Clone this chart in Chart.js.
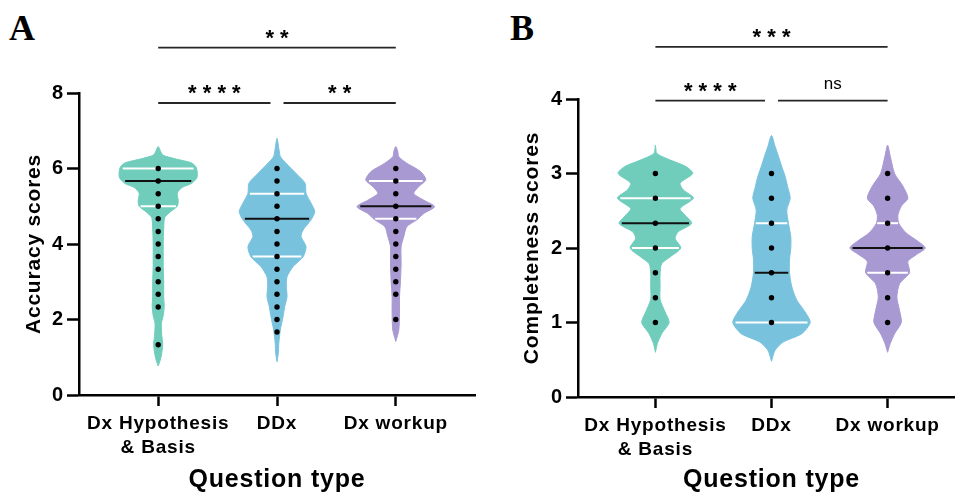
<!DOCTYPE html>
<html><head><meta charset="utf-8">
<script src="https://cdn.jsdelivr.net/npm/chart.js@4.4.1/dist/chart.umd.min.js"></script>
<style>
html,body{margin:0;padding:0;background:#fff;overflow:hidden;width:955px;height:493px;position:relative;}
canvas{position:absolute;top:0;}
#ca{left:0;}
#cb{left:480px;}
.pl{position:absolute;font-family:"Liberation Serif","Times New Roman",serif;font-weight:bold;font-size:36px;line-height:1;}
</style></head><body>
<div class="pl" style="left:9px;top:10px">A</div>
<div class="pl" style="left:510px;top:10px">B</div>
<canvas id="ca" width="480" height="493"></canvas>
<canvas id="cb" width="490" height="493"></canvas>
<script>
// ---------- DATA ----------
const categories = [["Dx Hypothesis", "& Basis"], "DDx", "Dx workup"];
const xTitle = "Question type";

// Panel A: accuracy scores
const accTicks = [0, 2, 4, 6, 8];
const accHypDots  = [6, 5.667, 5.333, 5, 4.667, 4.333, 4, 3.667, 3.333, 3, 2.667, 2.333, 1.333];
const accDdxDots  = [6, 5.667, 5.333, 5, 4.667, 4.333, 4, 3.667, 3.333, 3, 2.667, 2.333, 2, 1.667];
const accWorkDots = [6, 5.667, 5.333, 5, 4.667, 4.333, 4, 3.667, 3.333, 3, 2.667, 2];
// quartiles: [Q1, median, Q3]
const accHypStats  = [5, 5.667, 6];
const accDdxStats  = [3.667, 4.667, 5.333];
const accWorkStats = [4.667, 5, 5.667];
// violin density profiles (score level -> relative density)
const accHypLevels  = [0.77, 0.92, 1.1, 1.35, 1.6, 1.9, 2.1, 2.35, 2.6, 3.0, 3.4, 3.7, 4.0, 4.4, 4.7, 4.85, 5.0, 5.15, 5.35, 5.5, 5.6, 5.75, 5.9, 6.05, 6.15, 6.25, 6.35, 6.45, 6.58];
const accHypDens    = [0, 2, 3.5, 4.5, 3.5, 3.2, 5, 6, 5.5, 5.5, 5, 5, 5, 5.5, 6.5, 12, 19, 20, 19, 24, 33, 38.5, 39, 37.5, 33, 18, 5, 2.5, 0];
const accDdxLevels  = [0.88, 1.1, 1.37, 1.72, 2.07, 2.34, 2.6, 2.87, 3.13, 3.4, 3.66, 3.93, 4.2, 4.37, 4.64, 4.86, 5.08, 5.34, 5.61, 5.87, 6.14, 6.31, 6.5, 6.8];
const accDdxDens    = [0, 1.3, 1.8, 3.3, 6, 7.7, 10, 9.3, 10, 16, 26, 29, 24, 26, 34, 37.7, 34, 29, 28, 19, 9, 3.5, 2, 0];
const accWorkLevels = [1.42, 1.72, 2.16, 2.6, 3.04, 3.49, 3.93, 4.2, 4.46, 4.64, 4.81, 4.99, 5.16, 5.34, 5.52, 5.7, 5.92, 6.14, 6.31, 6.45, 6.58];
const accWorkDens   = [0, 3, 3.7, 3.7, 4.7, 5.3, 5.3, 8, 11, 21, 28, 38.7, 28, 18, 23, 30, 24.7, 11, 3, 2, 0];
const accComparisons = [[1, 3, "* *"], [1, 2, "* * * *"], [2, 3, "* *"]];

// Panel B: completeness scores
const compTicks = [0, 1, 2, 3, 4];
const compHypDots  = [3, 2.667, 2.333, 2, 1.667, 1.333, 1];
const compDdxDots  = [3, 2.667, 2.333, 2, 1.667, 1.333, 1];
const compWorkDots = [3, 2.667, 2.333, 2, 1.667, 1.333, 1];
const compHypStats  = [2, 2.333, 2.667];
const compDdxStats  = [1, 1.667, 2.333];
const compWorkStats = [1.667, 2, 2.333];
const compHypLevels  = [0.6, 0.72, 0.85, 1.0, 1.14, 1.31, 1.48, 1.66, 1.79, 1.88, 2.0, 2.13, 2.22, 2.33, 2.44, 2.53, 2.67, 2.78, 2.87, 3.0, 3.09, 3.18, 3.27, 3.38];
const compHypDens    = [0, 2, 6.3, 13.7, 9.7, 4.7, 4.7, 4.7, 6.3, 14.7, 25.3, 19.7, 23, 36.3, 29.7, 24.7, 38, 28, 24.7, 37.3, 31, 15, 1.5, 0];
const compDdxLevels  = [0.48, 0.63, 0.74, 0.85, 1.0, 1.14, 1.3, 1.48, 1.67, 1.84, 2.0, 2.15, 2.33, 2.51, 2.67, 2.83, 2.96, 3.09, 3.23, 3.36, 3.51];
const compDdxDens    = [0, 3.7, 12, 30.3, 38.7, 33.7, 25.3, 20.3, 18, 18, 19.3, 19.3, 17, 15.3, 18.7, 16, 13.7, 10.3, 7, 3.7, 0];
const compWorkLevels = [0.6, 0.72, 0.85, 1.0, 1.16, 1.34, 1.52, 1.67, 1.82, 1.91, 2.0, 2.09, 2.2, 2.33, 2.44, 2.56, 2.67, 2.83, 3.0, 3.23, 3.38];
const compWorkDens   = [0, 2.7, 7, 13.7, 12, 9.3, 12, 22, 20.3, 28.7, 37.7, 30.3, 18.7, 11.3, 10.3, 13.7, 20.3, 15.3, 7, 2.7, 0];
const compComparisons = [[1, 3, "* * *"], [1, 2, "* * * *"], [2, 3, "ns"]];

// ---------- STYLE ----------
const FONT = '"Liberation Sans", Arial, Helvetica, sans-serif';
const COLORS = ['#70cdbc', '#79c2de', '#a999d3'];

function interp(levels, dens, v) {
  for (let i = 0; i < levels.length - 1; i++) {
    if (v >= levels[i] && v <= levels[i + 1]) {
      const t = (v - levels[i]) / (levels[i + 1] - levels[i]);
      return dens[i] + t * (dens[i + 1] - dens[i]);
    }
  }
  return 0;
}

function violinPoints(c, levels, dens, k) {
  const right = levels.map((y, i) => ({x: c + dens[i] * k, y}));
  const left = [];
  for (let i = levels.length - 2; i >= 0; i--) left.push({x: c - dens[i] * k, y: levels[i]});
  return right.concat(left);
}

const spacingPlugin = {
  id: 'spacing',
  beforeUpdate(c) { c.ctx.letterSpacing = '0.8px'; },
  beforeDraw(c) { c.ctx.letterSpacing = '0.8px'; }
};

const bracketPlugin = {
  id: 'brackets',
  afterDatasetsDraw(chart, args, opts) {
    const {ctx} = chart;
    const xs = chart.scales.x, ys = chart.scales.y;
    ctx.save();
    opts.items.forEach(([a, b, label]) => {
      const lvl = (b - a > 1) ? 1 : 0;
      let x1 = xs.getPixelForValue(a), x2 = xs.getPixelForValue(b);
      if (a !== 1) x1 += opts.gap;
      if (b !== 3) x2 -= opts.gap;
      const py = ys.getPixelForValue(opts.heights[lvl]);
      ctx.strokeStyle = '#262626';
      ctx.lineWidth = 1.8;
      ctx.beginPath(); ctx.moveTo(x1, py); ctx.lineTo(x2, py); ctx.stroke();
      ctx.fillStyle = '#000';
      ctx.textAlign = 'center';
      ctx.textBaseline = 'alphabetic';
      if (label === 'ns') {
        ctx.letterSpacing = '0px';
        ctx.font = '17px ' + FONT;
        ctx.fillText(label, (x1 + x2) / 2, py - 12);
      } else {
        ctx.letterSpacing = '0px';
        ctx.font = 'bold 22px ' + FONT;
        ctx.fillText(label, (x1 + x2) / 2, py - 3);
      }
    });
    ctx.restore();
  }
};

function makePanel(id, p) {
  const datasets = [];
  p.dots.forEach((arr, i) => {
    datasets.push({type: 'scatter', data: arr.map(v => ({x: i + 1, y: v})), pointRadius: 2.7,
      pointBackgroundColor: '#000', pointBorderWidth: 0, order: 1, clip: false});
  });
  p.stats.forEach((st, i) => {
    st.forEach((v, j) => {
      const w = interp(p.levels[i], p.dens[i], v) * p.k * 0.93;
      datasets.push({type: 'line', data: [{x: i + 1 - w, y: v}, {x: i + 1 + w, y: v}],
        borderColor: j === 1 ? '#111' : '#ffffff', borderWidth: 2, pointRadius: 0, order: 2, clip: false});
    });
  });
  p.levels.forEach((lv, i) => {
    datasets.push({type: 'line', data: violinPoints(i + 1, lv, p.dens[i], p.k),
      borderColor: COLORS[i], backgroundColor: COLORS[i], borderWidth: 1, fill: 'shape',
      tension: 0.25, pointRadius: 0, order: 3, clip: false});
  });

  return new Chart(document.getElementById(id), {
    type: 'scatter',
    data: {datasets},
    plugins: [spacingPlugin, bracketPlugin],
    options: {
      responsive: false,
      animation: false,
      events: [],
      layout: {padding: {top: p.padTop, right: p.padRight, left: 0, bottom: 0}},
      plugins: {
        legend: {display: false}, tooltip: {enabled: false},
        brackets: {items: p.comparisons, heights: p.bracketHeights, gap: 6.5}
      },
      scales: {
        x: {
          type: 'linear', min: 1 / 3, max: 11 / 3,
          afterBuildTicks: s => { s.ticks = [1, 2, 3].map(v => ({value: v})); },
          afterFit: s => { s.height = p.xHeight; },
          grid: {display: true, drawOnChartArea: false, drawTicks: true, tickLength: 11, tickWidth: 2.5, tickColor: '#000'},
          border: {display: true, color: '#000', width: 2.5},
          ticks: {color: '#000', font: {family: FONT, size: 19, weight: 'bold', lineHeight: 1.26},
            padding: 6, maxRotation: 0, autoSkip: false, callback: v => categories[v - 1]},
          title: {display: true, text: xTitle, color: '#000',
            font: {family: FONT, size: 25, weight: 'bold', lineHeight: 1}, padding: {top: 0, bottom: 0}}
        },
        y: {
          min: 0, max: p.yMax,
          afterBuildTicks: s => { s.ticks = p.yTicks.map(v => ({value: v})); },
          afterFit: s => { s.width = p.yWidth; },
          grid: {display: true, drawOnChartArea: false, drawTicks: true, tickLength: 12, tickWidth: 2.5, tickColor: '#000'},
          border: {display: true, color: '#000', width: 2.5},
          ticks: {color: '#000', font: {family: FONT, size: 20, weight: 'bold'}, padding: 3},
          title: {display: true, text: p.yTitle, color: '#000',
            font: {family: FONT, size: 21, weight: 'bold', lineHeight: 1}, padding: {top: p.yTitlePad, bottom: 0}}
        }
      }
    }
  });
}

makePanel('ca', {
  dots: [accHypDots, accDdxDots, accWorkDots],
  stats: [accHypStats, accDdxStats, accWorkStats],
  levels: [accHypLevels, accDdxLevels, accWorkLevels],
  dens: [accHypDens, accDdxDens, accWorkDens],
  k: 1 / 118.5, yMax: 8, yTicks: accTicks, yTitle: 'Accuracy scores',
  comparisons: accComparisons, bracketHeights: [7.735, 9.2],
  padTop: 93, padRight: 5, xHeight: 98, yWidth: 79, yTitlePad: 24
});
makePanel('cb', {
  dots: [compHypDots, compDdxDots, compWorkDots],
  stats: [compHypStats, compDdxStats, compWorkStats],
  levels: [compHypLevels, compDdxLevels, compWorkLevels],
  dens: [compHypDens, compDdxDens, compWorkDens],
  k: 1 / 116.1, yMax: 4, yTicks: compTicks, yTitle: 'Completeness scores',
  comparisons: compComparisons, bracketHeights: [3.977, 4.70],
  padTop: 99, padRight: 5, xHeight: 96, yWidth: 98, yTitlePad: 42
});
</script>
</body></html>
